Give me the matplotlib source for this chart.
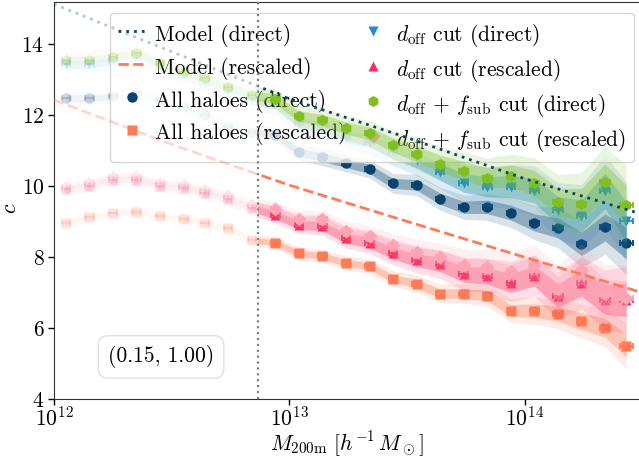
import numpy as np
import matplotlib
matplotlib.use('Agg')
import matplotlib.pyplot as plt
import matplotlib.transforms as mtransforms
from matplotlib.patches import Rectangle
from matplotlib.ticker import NullLocator

plt.rcParams['font.family'] = 'serif'
plt.rcParams['font.serif'] = ['cmr10']
plt.rcParams['mathtext.fontset'] = 'cm'
plt.rcParams['axes.formatter.use_mathtext'] = True
plt.rcParams['font.size'] = 15.5

# Mass bin centres (log10 M200m)
log_mass = [12.05, 12.15, 12.25, 12.35, 12.45, 12.55, 12.64, 12.74, 12.84, 12.94,
            13.04, 13.14, 13.24, 13.34, 13.44, 13.54, 13.64, 13.74, 13.84, 13.94,
            14.04, 14.14, 14.24, 14.34, 14.43]
# horizontal scatter of the haloes in each bin (dex)
xerr_dex = [0.018, 0.018, 0.018, 0.018, 0.018, 0.018, 0.018, 0.018, 0.018, 0.018,
            0.018, 0.018, 0.018, 0.018, 0.018, 0.018, 0.018, 0.018, 0.018, 0.018,
            0.019, 0.020, 0.021, 0.023, 0.028]

# resolution limit
m_cut = 7.33e12

# Model curves
model_logm = [12.0, 12.5, 13.0, 13.5, 14.0, 14.5]
c_model_direct = [15.12, 13.78, 12.45, 11.36, 10.20, 9.20]
c_model_rescaled = [12.42, 11.17, 10.02, 9.00, 7.99, 6.99]

# Median concentrations
c_all_direct = [12.47, 12.47, 12.52, 12.61, 12.42, 12.23, 12.00, 11.67, 11.53, 11.44,
                10.95, 10.81, 10.64, 10.48, 10.07, 10.03, 9.64, 9.40, 9.41, 9.25,
                8.97, 8.82, 8.37, 8.83, 8.39]
c_all_rescaled = [8.97, 9.12, 9.23, 9.28, 9.15, 9.08, 8.97, 8.81, 8.48, 8.40,
                  8.10, 8.03, 7.83, 7.74, 7.39, 7.25, 6.97, 6.97, 6.91, 6.49,
                  6.49, 6.40, 6.19, 6.01, 5.50]
c_off_direct = [13.42, 13.42, 13.52, 13.60, 13.33, 13.08, 12.88, 12.65, 12.40, 12.30,
                11.77, 11.65, 11.39, 11.25, 10.97, 10.73, 10.40, 10.08, 9.98, 9.98,
                9.87, 9.31, 9.16, 9.86, 9.00]
c_off_rescaled = [9.90, 10.01, 10.18, 10.18, 9.99, 9.95, 9.81, 9.64, 9.38, 9.18,
                  8.90, 8.87, 8.53, 8.40, 8.10, 7.91, 7.79, 7.51, 7.47, 7.26,
                  7.47, 6.91, 7.27, 6.80, 6.79]
c_offsub_direct = [13.55, 13.55, 13.64, 13.74, 13.46, 13.22, 13.03, 12.80, 12.56, 12.45,
                   11.96, 11.86, 11.63, 11.48, 11.15, 10.90, 10.63, 10.43, 10.23, 10.28,
                   10.09, 9.54, 9.49, 10.12, 9.46]
c_offsub_rescaled = [9.98, 10.09, 10.26, 10.26, 10.07, 10.03, 9.89, 9.72, 9.46, 9.34,
                     9.06, 9.06, 8.73, 8.59, 8.34, 8.13, 7.99, 7.78, 7.72, 7.61,
                     7.77, 7.10, 7.62, 6.95, 6.85]

# 1-sigma scatter of the median (the outer band is 2 sigma)
err_all_direct = [0.10, 0.09, 0.09, 0.09, 0.09, 0.09, 0.09, 0.10, 0.10, 0.10,
                  0.11, 0.12, 0.12, 0.13, 0.14, 0.15, 0.16, 0.17, 0.19, 0.21,
                  0.24, 0.28, 0.33, 0.38, 0.44]
err_all_rescaled = [0.07, 0.07, 0.07, 0.07, 0.07, 0.07, 0.07, 0.08, 0.08, 0.08,
                    0.09, 0.09, 0.10, 0.10, 0.11, 0.12, 0.13, 0.14, 0.15, 0.17,
                    0.19, 0.21, 0.24, 0.27, 0.32]
err_cut_direct = [0.12, 0.11, 0.11, 0.11, 0.11, 0.11, 0.12, 0.12, 0.13, 0.14,
                  0.15, 0.16, 0.17, 0.18, 0.20, 0.22, 0.24, 0.26, 0.28, 0.31,
                  0.35, 0.39, 0.44, 0.50, 0.56]
err_cut_rescaled = [0.09, 0.09, 0.09, 0.09, 0.09, 0.09, 0.09, 0.10, 0.11, 0.11,
                    0.12, 0.13, 0.14, 0.15, 0.16, 0.18, 0.20, 0.22, 0.24, 0.26,
                    0.29, 0.33, 0.37, 0.42, 0.47]

NAVY = '#08426f'
CORAL = '#ff7a55'
BLUE = '#1f8bd4'
CRIMSON = '#f92c5f'
GREEN = '#7fbf1f'
PINK = '#ffa3b5'
FADE = 0.2
FADE_BAND = 0.12

mass = 10**np.array(log_mass)
dex = np.array(xerr_dex)
xerr = np.vstack([mass - mass*10**(-dex), mass*10**dex - mass])

fig = plt.figure(figsize=(6.39, 4.58), dpi=100)
ax = fig.add_axes([54/639, 59/458, 585/639, 397/458])

# everything below the resolution limit is drawn faded
blend = mtransforms.blended_transform_factory(ax.transData, ax.transAxes)
clip_lo = Rectangle((1e11, 0), m_cut - 1e11, 1, transform=blend)
clip_hi = Rectangle((m_cut, 0), 1e17, 1, transform=blend)


def draw_series(c, err, color, marker, ms, label, z):
    c = np.array(c)
    e = np.array(err)
    for k, a in ((2, 0.15), (1, 0.35)):
        for clip, fade in ((clip_lo, FADE_BAND), (clip_hi, 1.0)):
            band = ax.fill_between(mass, c - k*e, c + k*e, color=color,
                                   alpha=a*fade, lw=0, zorder=z)
            band.set_clip_path(clip)
    lo = mass < m_cut
    for sel, fade in ((lo, FADE), (~lo, 1.0)):
        ax.errorbar(mass[sel], c[sel], xerr=xerr[:, sel], fmt='none', ecolor=color,
                    alpha=fade, elinewidth=1.3, capsize=2.5, capthick=1.3, zorder=z + 1)
        ax.plot(mass[sel], c[sel], ls='none', marker=marker, ms=ms,
                color=color, mec='none', alpha=fade, zorder=z + 1)
    h, = ax.plot([], [], ls='none', marker=marker, ms=ms, color=color,
                 mec='none', label=label)
    return h


def draw_model(c, color, dashes, label):
    m = 10**np.array(model_logm)
    for clip, fade in ((clip_lo, 0.3), (clip_hi, 1.0)):
        ln, = ax.plot(m, c, dashes=dashes, lw=2, color=color, alpha=fade, zorder=8)
        ln.set_clip_path(clip)
    h, = ax.plot([], [], dashes=dashes, lw=2, color=color, label=label)
    return h


h_all_d = draw_series(c_all_direct, err_all_direct, NAVY, 'o', 7.5, 'All haloes (direct)', 2)
h_all_r = draw_series(c_all_rescaled, err_all_rescaled, CORAL, 's', 7.5, 'All haloes (rescaled)', 2)
h_off_d = draw_series(c_off_direct, err_cut_direct, BLUE, 'v', 7.5,
                      r'$d_{\rm off}$ cut (direct)', 4)
h_off_r = draw_series(c_off_rescaled, err_cut_rescaled, CRIMSON, '^', 7.5,
                      r'$d_{\rm off}$ cut (rescaled)', 4)
h_sub_d = draw_series(c_offsub_direct, err_cut_direct, GREEN, 'h', 8,
                      r'$d_{\rm off}$ + $f_{\rm sub}$ cut (direct)', 6)
h_sub_r = draw_series(c_offsub_rescaled, err_cut_rescaled, PINK, 'D', 7.5,
                      r'$d_{\rm off}$ + $f_{\rm sub}$ cut (rescaled)', 6)

h_mod_d = draw_model(c_model_direct, NAVY, (1, 1.8), 'Model (direct)')
h_mod_r = draw_model(c_model_rescaled, CORAL, (3.7, 1.6), 'Model (rescaled)')

ax.axvline(m_cut, color='0.5', ls=':', lw=1.6, zorder=9)

ax.set_xscale('log')
ax.set_xlim(1e12, 3.05e14)
ax.set_ylim(4, 15.18)
ax.set_yticks([4, 6, 8, 10, 12, 14])
ax.xaxis.set_minor_locator(NullLocator())
ax.tick_params(direction='out', length=4, width=1, pad=3)
ax.tick_params(axis='x', pad=1)
ax.spines['right'].set_visible(False)
for s in ('left', 'bottom', 'top'):
    ax.spines[s].set_color('#333333')

ax.set_xlabel(r'$M_{\rm 200m}\ [h^{-1}\,M_\odot]$')
ax.set_ylabel(r'$c$')
ax.xaxis.set_label_coords(0.5, -0.077)
ax.yaxis.set_label_coords(-0.058, 0.48)

# equal row heights in both legend columns
handles = [h_mod_d, h_mod_r, h_all_d, h_all_r, h_off_d, h_off_r, h_sub_d, h_sub_r]
ax.legend(handles=handles, ncol=2, loc='upper right', bbox_to_anchor=(0.992, 0.972),
          borderaxespad=0, handlelength=1.3, handleheight=1.3, handletextpad=0.4,
          columnspacing=0.6, labelspacing=0.37, framealpha=0.8, edgecolor='0.8')

ax.text(0.183, 0.106, '(0.15, 1.00)', transform=ax.transAxes, ha='center', va='center',
        bbox=dict(boxstyle='round,pad=0.45', fc='white', ec='0.85', alpha=0.8), zorder=10)

fig.savefig('out.png', dpi=100)
